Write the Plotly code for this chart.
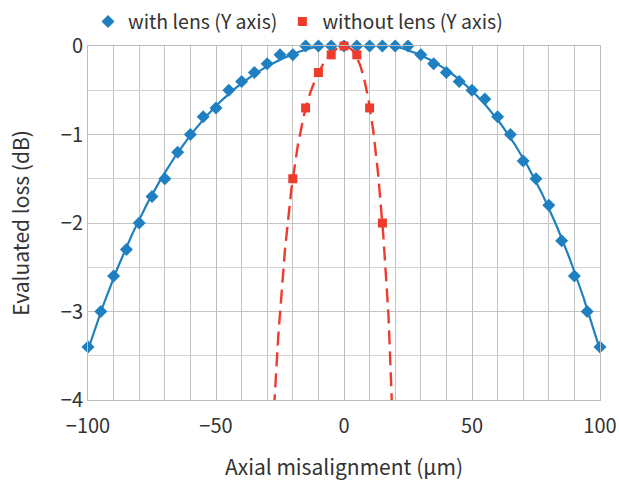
import numpy as np
import plotly.graph_objects as go

# with lens (Y axis)
x_lens = [-100, -95, -90, -85, -80, -75, -70, -65, -60, -55, -50, -45, -40, -35, -30, -25, -20, -15, -10, -5, 0,
          5, 10, 15, 20, 25, 30, 35, 40, 45, 50, 55, 60, 65, 70, 75, 80, 85, 90, 95, 100]
y_lens = [-3.4, -3.0, -2.6, -2.3, -2.0, -1.7, -1.5, -1.2, -1.0, -0.8, -0.7, -0.5, -0.4, -0.3, -0.2, -0.1, -0.1, 0, 0, 0, 0,
          0, 0, 0, 0, 0, -0.1, -0.2, -0.3, -0.4, -0.5, -0.6, -0.8, -1.0, -1.3, -1.5, -1.8, -2.2, -2.6, -3.0, -3.4]

# without lens (Y axis)
x_nolens = [-20, -15, -10, -5, 0, 5, 10, 15]
y_nolens = [-1.5, -0.7, -0.3, -0.1, 0, -0.1, -0.7, -2.0]

x_ticks = [-100, -50, 0, 50, 100]
y_ticks = [0, -1, -2, -3, -4]

BLUE = "#1f80c1"
RED = "#ef3b2c"

# polynomial trendlines fitted to the data (as in the original chart)
xf = np.linspace(-100, 100, 801)
p_lens = np.polyfit(x_lens, y_lens, 4)
p_nolens = np.polyfit(x_nolens, y_nolens, 4)
xf2 = np.linspace(-40, 40, 801)

fig = go.Figure()
fig.add_trace(go.Scatter(x=xf, y=np.polyval(p_lens, xf), mode="lines",
                         line=dict(color=BLUE, width=2.2), showlegend=False, hoverinfo="skip"))
fig.add_trace(go.Scatter(x=xf2, y=np.polyval(p_nolens, xf2), mode="lines",
                         line=dict(color=RED, width=2.4, dash="14px,7px"), showlegend=False, hoverinfo="skip"))
fig.add_trace(go.Scatter(x=x_lens, y=y_lens, mode="markers", name="with lens (Y axis)",
                         marker=dict(symbol="diamond", size=10, color=BLUE), cliponaxis=False))
fig.add_trace(go.Scatter(x=x_nolens, y=y_nolens, mode="markers", name="without lens (Y axis)",
                         marker=dict(symbol="square", size=9, color=RED), cliponaxis=False))

font = "Noto Sans CJK JP, Noto Sans, sans-serif"
fig.update_layout(
    width=619, height=487,
    margin=dict(l=88, r=19, t=46, b=87, autoexpand=False),
    paper_bgcolor="white", plot_bgcolor="white",
    font=dict(family=font, color="#333333", size=20),
    legend=dict(orientation="h", x=0.0, xanchor="left", y=1.068, yanchor="middle",
                font=dict(size=19.5, color="#333333"), itemwidth=30, tracegroupgap=0,
                bgcolor="rgba(0,0,0,0)"),
    xaxis=dict(range=[-100, 100], tickvals=x_ticks, ticktext=[str(v).replace("-", "−") for v in x_ticks],
               showgrid=True, gridcolor="#bdbdbd", gridwidth=1,
               minor=dict(dtick=10, showgrid=True, gridcolor="#c4c4c4", gridwidth=1),
               zeroline=False, showline=True, linecolor="#bdbdbd", linewidth=1, mirror=True,
               ticks="", tickfont=dict(size=20), ticklabelstandoff=8, automargin=False,
               title=dict(text="Axial misalignment (µm)", font=dict(size=21), standoff=22)),
    yaxis=dict(range=[-4, 0], tickvals=y_ticks, ticktext=[str(v).replace("-", "−") for v in y_ticks],
               showgrid=True, gridcolor="#c4c4c4", gridwidth=1,
               minor=dict(dtick=0.5, showgrid=True, gridcolor="#d4d4d4", gridwidth=1),
               zeroline=False, showline=True, linecolor="#bdbdbd", linewidth=1, mirror=True,
               ticks="", tickfont=dict(size=20), automargin=False,
               title=dict(text="Evaluated loss (dB)", font=dict(size=21), standoff=25)),
)

fig.write_html("out.html")
